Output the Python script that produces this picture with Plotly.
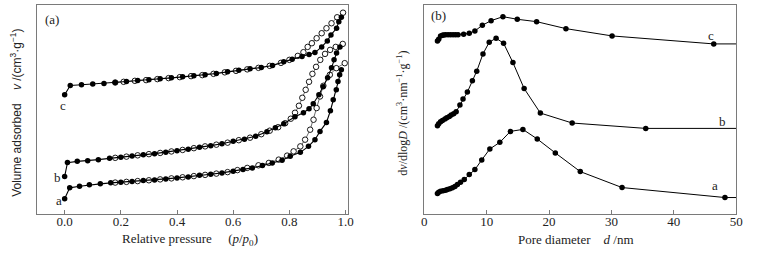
import plotly.graph_objects as go

W, H = 757, 256

# ---------------- Panel (a): N2 isotherms (relative pressure, arbitrary offset volume) ----------------
a_ads_p = [0.0, 0.018, 0.053, 0.088, 0.127, 0.164, 0.20, 0.24, 0.28, 0.32, 0.36, 0.40, 0.44, 0.48, 0.52,
           0.56, 0.60, 0.635, 0.668, 0.704, 0.739, 0.774, 0.803, 0.839, 0.868, 0.891, 0.909, 0.932,
           0.946, 0.956, 0.967, 0.973, 0.979, 0.985]
a_ads_v = [14.7, 25.7, 27.3, 28.7, 29.7, 30.7, 31.3, 32.0, 33.0, 33.7, 34.7, 35.7, 36.7, 38.3, 39.3,
           40.7, 42.3, 44.0, 45.7, 48.0, 50.7, 53.3, 57.3, 61.3, 67.3, 74.0, 82.3, 91.3,
           103.0, 114.0, 124.0, 132.3, 139.0, 144.0]
a_des_p = [0.997, 0.967, 0.944, 0.921, 0.909, 0.897, 0.886, 0.874, 0.856, 0.839, 0.815, 0.792, 0.762,
           0.727, 0.69, 0.65, 0.615, 0.58, 0.54, 0.50, 0.46, 0.42, 0.38, 0.34, 0.30, 0.26, 0.22, 0.18]
a_des_v = [150.7, 145.7, 139.0, 128.0, 117.3, 105.7, 94.0, 84.0, 74.0, 67.3, 62.3, 58.0, 54.0,
           50.7, 48.3, 45.7, 43.5, 41.5, 40.0, 38.7, 37.5, 36.3, 35.2, 34.2, 33.3, 32.5, 31.7, 31.0]

b_ads_p = [0.0, 0.01, 0.045, 0.082, 0.12, 0.16, 0.20, 0.24, 0.28, 0.32, 0.36, 0.40, 0.44, 0.48, 0.52,
           0.56, 0.60, 0.64, 0.68, 0.72, 0.75, 0.78, 0.82, 0.85, 0.87, 0.885, 0.905, 0.92, 0.936,
           0.95, 0.959, 0.968, 0.98]
b_ads_v = [37.0, 51.0, 52.3, 53.0, 54.0, 55.3, 56.3, 57.7, 59.0, 60.0, 61.5, 63.0, 64.5, 66.5, 68.0,
           70.0, 72.5, 74.5, 77.5, 82.0, 86.0, 90.0, 97.0, 101.0, 105.0, 110.0, 119.0, 127.0, 136.0,
           146.0, 154.0, 161.0, 167.0]
b_des_p = [0.99, 0.965, 0.945, 0.927, 0.91, 0.895, 0.882, 0.87, 0.858, 0.846, 0.834, 0.82, 0.805,
           0.785, 0.76, 0.73, 0.70, 0.66, 0.62, 0.58, 0.54, 0.50, 0.46, 0.42, 0.38, 0.34, 0.30,
           0.26, 0.22, 0.18]
b_des_v = [170.0, 167.0, 164.0, 160.0, 154.0, 147.0, 140.0, 132.0, 124.0, 116.0, 108.0, 101.0, 95.0,
           90.5, 86.5, 83.0, 79.5, 76.0, 73.5, 71.0, 69.0, 67.3, 65.5, 63.7, 62.2, 60.7, 59.5,
           58.3, 57.0, 55.8]

c_ads_p = [0.0, 0.02, 0.06, 0.10, 0.14, 0.18, 0.22, 0.26, 0.30, 0.34, 0.38, 0.42, 0.46, 0.50, 0.54,
           0.58, 0.62, 0.66, 0.70, 0.74, 0.78, 0.81, 0.845, 0.87, 0.891, 0.915, 0.935, 0.948, 0.968,
           0.976, 0.985]
c_ads_v = [119.0, 128.3, 129.0, 129.7, 130.3, 131.3, 132.3, 133.3, 134.0, 135.0, 136.0, 137.0, 138.0,
           139.0, 140.3, 142.0, 143.7, 145.0, 146.3, 148.3, 152.0, 154.5, 157.3, 159.5, 161.3, 167.0,
           173.0, 179.0, 185.7, 192.3, 196.7]
c_des_p = [0.991, 0.970, 0.95, 0.932, 0.915, 0.897, 0.88, 0.865, 0.85, 0.83, 0.80, 0.77, 0.73, 0.69,
           0.65, 0.61, 0.57, 0.53, 0.49, 0.45, 0.41, 0.37, 0.33, 0.29, 0.25, 0.21, 0.18]
c_des_v = [201.3, 196.7, 190.7, 185.7, 180.7, 175.7, 170.7, 167.0, 161.7, 158.0, 154.0, 151.0, 148.0,
           146.0, 144.5, 143.0, 141.5, 140.0, 138.7, 137.7, 136.7, 135.7, 134.7, 133.7, 133.0, 132.0,
           131.3]

# ---------------- Panel (b): pore size distributions (offset, arbitrary units) ----------------
pa_d = [2.1, 2.3, 2.6, 3.0, 3.4, 3.7, 4.1, 4.5, 4.9, 5.3, 5.8, 6.4, 7.2, 8.1, 9.2, 10.5, 12.1, 13.8,
        15.8, 18.1, 21.0, 25.0, 31.7, 48.2]
pa_v = [20.0, 21.3, 22.3, 22.7, 23.3, 24.0, 24.7, 25.7, 27.0, 29.0, 31.3, 34.0, 39.0, 44.0, 53.7,
        64.7, 71.3, 82.3, 84.3, 74.7, 60.7, 42.0, 26.0, 16.0]
pb_d = [2.1, 2.3, 2.6, 2.9, 3.3, 3.6, 4.0, 4.3, 4.7, 5.1, 5.7, 6.2, 6.9, 7.7, 8.4, 9.4, 10.4, 11.5,
        12.7, 14.2, 16.0, 18.6, 23.7, 35.5]
pb_v = [88.0, 90.0, 92.0, 93.3, 94.7, 96.0, 97.3, 98.7, 100.0, 102.0, 108.7, 114.7, 121.7, 133.0,
        142.7, 160.0, 171.7, 175.7, 170.7, 151.3, 125.3, 100.7, 90.7, 85.3]
pc_d = [2.1, 2.3, 2.6, 2.9, 3.1, 3.4, 3.8, 4.2, 4.6, 5.0, 5.4, 6.3, 7.2, 8.1, 9.3, 10.7, 12.6, 14.9,
        18.0, 22.7, 30.1, 46.4]
pc_v = [173.0, 174.7, 178.0, 178.7, 179.0, 179.3, 179.3, 179.3, 179.3, 179.3, 179.3, 179.7, 180.7,
        183.0, 188.7, 193.3, 197.3, 194.7, 192.3, 185.3, 178.0, 170.0]

x_a_ticks = [0.0, 0.2, 0.4, 0.6, 0.8, 1.0]
x_a_ticktext = ["0.0", "0.2", "0.4", "0.6", "0.8", "1.0"]
x_b_ticks = [0, 10, 20, 30, 40, 50]
x_b_ticktext = ["0", "10", "20", "30", "40", "50"]

SERIF = "Liberation Serif, Times New Roman, serif"
SANS = "Liberation Sans, Arial, sans-serif"

fig = go.Figure()


def add_iso(p, v, filled):
    if filled:
        fig.add_trace(go.Scatter(
            x=p, y=v, mode="lines+markers", xaxis="x", yaxis="y",
            line=dict(color="black", width=1.1),
            marker=dict(symbol="circle", size=5.5, color="black", line=dict(width=0)),
            showlegend=False, hoverinfo="skip"))
    else:
        fig.add_trace(go.Scatter(
            x=p, y=v, mode="lines+markers", xaxis="x", yaxis="y",
            line=dict(color="#444", width=0.8),
            marker=dict(symbol="circle", size=5.5, color="white", line=dict(width=0.9, color="black")),
            showlegend=False, hoverinfo="skip"))


for p, v in [(a_des_p, a_des_v), (b_des_p, b_des_v), (c_des_p, c_des_v)]:
    add_iso(p, v, False)
for p, v in [(a_ads_p, a_ads_v), (b_ads_p, b_ads_v), (c_ads_p, c_ads_v)]:
    add_iso(p, v, True)

for d, v in [(pa_d, pa_v), (pb_d, pb_v), (pc_d, pc_v)]:
    # line continues flat to the right frame
    fig.add_trace(go.Scatter(
        x=list(d) + [x_b_ticks[-1]], y=list(v) + [v[-1]], mode="lines", xaxis="x2", yaxis="y2",
        line=dict(color="black", width=1), showlegend=False, hoverinfo="skip"))
    fig.add_trace(go.Scatter(
        x=d, y=v, mode="markers", xaxis="x2", yaxis="y2",
        marker=dict(symbol="circle", size=5.5, color="black"),
        showlegend=False, hoverinfo="skip"))

axis_common = dict(showline=True, linecolor="#7a7a7a", linewidth=1, mirror=True,
                   showgrid=False, zeroline=False)
ydom = [(H - 213.5) / H, (H - 5) / H]

fig.update_layout(
    width=W, height=H,
    margin=dict(l=0, r=0, t=0, b=0, pad=0),
    paper_bgcolor="white", plot_bgcolor="white",
    xaxis=dict(domain=[34 / W, 350 / W], range=[-0.1, 1.01], anchor="y",
               tickmode="array", tickvals=x_a_ticks, ticktext=x_a_ticktext,
               ticks="inside", ticklen=4, tickcolor="#7a7a7a", ticklabelstandoff=-4,
               tickfont=dict(family=SERIF, size=13, color="#222"), **axis_common),
    yaxis=dict(domain=ydom, range=[0, 209], anchor="x", showticklabels=False, ticks="",
               **axis_common),
    xaxis2=dict(domain=[427 / W, 743 / W], range=[0, 50], anchor="y2",
                tickmode="array", tickvals=x_b_ticks, ticktext=x_b_ticktext,
                ticks="inside", ticklen=4, tickcolor="#7a7a7a", ticklabelstandoff=-4,
                tickfont=dict(family=SERIF, size=13, color="#222"), **axis_common),
    yaxis2=dict(domain=ydom, range=[0, 209], anchor="x2", showticklabels=False, ticks="",
                **axis_common),
)


def ann(px, py, text, size=13, family=SERIF, angle=0):
    fig.add_annotation(x=px / W, y=1 - py / H, xref="paper", yref="paper", text=text,
                       showarrow=False, textangle=angle, xanchor="center", yanchor="middle",
                       font=dict(family=family, size=size, color="#222"))


# panel tags and curve labels
ann(50, 19, "(a)")
ann(61, 105, "c")
ann(55, 177, "b")
ann(56.5, 200, "a")
ann(441, 15, "(b)")
ann(717, 35, "c")
ann(729.5, 121, "b")
ann(722, 185, "a")

# axis titles
ann(190, 239, "Relative pressure&nbsp;&nbsp;&nbsp;&nbsp;&nbsp;(<i>p</i>/<i>p</i><sub>0</sub>)", size=13, family=SERIF)
ann(581, 239, "Pore diameter&nbsp;&nbsp;&nbsp;&nbsp;<i>d</i> /nm", size=13, family=SERIF)
ann(13, 113, "Volume adsorbed&nbsp;&nbsp;&nbsp;&nbsp;<i>v</i> /(cm<sup>3</sup>·g<sup>−1</sup>)",
    size=12, family=SANS, angle=-90)
ann(404, 113, "d<i>v</i>/dlog<i>D</i> /(cm<sup>3</sup>·nm<sup>−1</sup>·g<sup>−1</sup>)",
    size=12, family=SERIF, angle=-90)

# the page body has a default 8px margin; remove it so the figure sits at the window origin
fig.write_html("out.html", config={"displayModeBar": False},
               post_script="document.body.style.margin='0px';")
